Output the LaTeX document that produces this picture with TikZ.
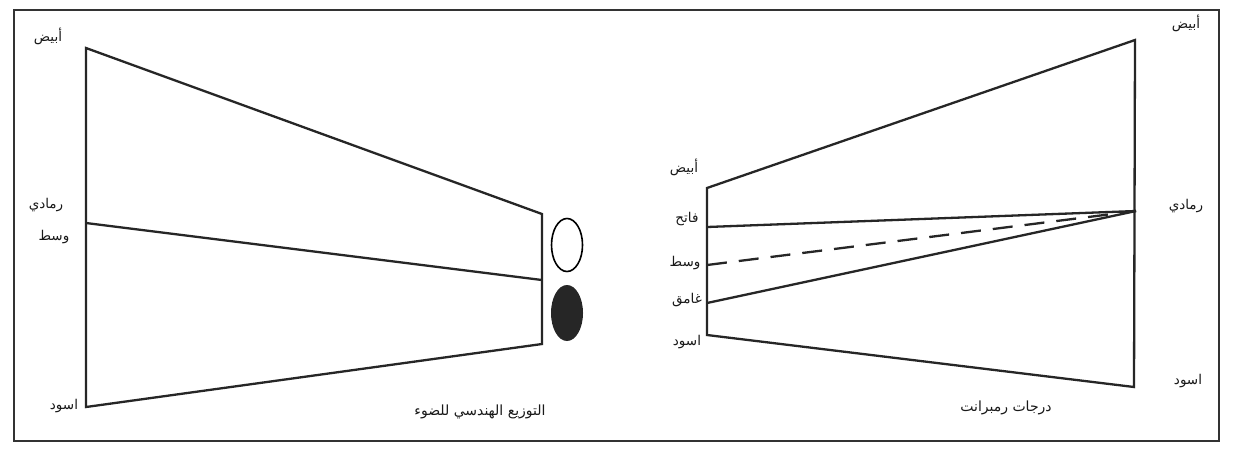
\documentclass[tikz,border=0pt]{standalone}
\usepackage{fontspec}
\usetikzlibrary{shapes.geometric}
\newfontfamily\arabicfont[Script=Arabic]{DejaVu Sans}
\TeXXeTstate=1
\newcommand{\ar}[1]{\arabicfont\beginR #1\endR}
\begin{document}
\begin{tikzpicture}[x=1pt,y=-1pt,
  edge/.style={line width=2.3pt,line join=miter,black!85},
  frame/.style={line width=2.6pt,black!80},
  lbl/.style={font=\fontsize{13.5}{15}\selectfont\arabicfont,inner sep=0pt,text=black!90},
  ttl/.style={font=\fontsize{14}{16}\selectfont\arabicfont,inner sep=0pt,text=black!90}]
\useasboundingbox (0,0) rectangle (1238,448);
\fill[white] (0,0) rectangle (1238,448);
% frame
\coordinate (f1) at (14,10);
\coordinate (f2) at (1219,10);
\coordinate (f3) at (1219,441);
\coordinate (f4) at (14,441);
\draw[frame] (f1) -- (f2) -- (f3) -- (f4) -- cycle;
% left trapezoid
\coordinate (lA) at (86,48);
\coordinate (lB) at (542,214);
\coordinate (lC) at (542,344);
\coordinate (lD) at (86,407);
\coordinate (lM1) at (86,223);
\coordinate (lM2) at (542,280);
\draw[edge] (lA) -- (lB) -- (lC) -- (lD) -- cycle;
\draw[edge] (lM1) -- (lM2);
% ellipses
\node[draw,line width=1.6pt,ellipse,minimum width=31pt,minimum height=53pt,inner sep=0pt] (wh) at (567,245) {};
\node[fill=black!85,ellipse,minimum width=32pt,minimum height=56pt,inner sep=0pt] (bk) at (567,313) {};
% right trapezoid
\coordinate (rA) at (707,188);
\coordinate (rB) at (1135,40);
\coordinate (rC) at (1134,387);
\coordinate (rD) at (707,335);
\coordinate (rG) at (1136,211);
\coordinate (rL) at (707,227);
\coordinate (rM) at (707,265);
\coordinate (rK) at (707,303);
\draw[edge] (rA) -- (rB) -- (rC) -- (rD) -- cycle;
\draw[edge] (rL) -- (rG);
\draw[edge,dash pattern=on 20pt off 12pt] (rM) -- (rG);
\draw[edge] (rK) -- (rG);
% labels left
\node[lbl] (t1) at (48,36) {\ar{أبيض}};
\node[lbl] (t2) at (46,205) {\ar{رمادي}};
\node[lbl] (t3) at (54,237) {\ar{وسط}};
\node[lbl] (t4) at (64,406) {\ar{اسود}};
\node[ttl] (t5) at (480,412) {\ar{التوزيع الهندسي للضوء}};
% labels middle
\node[lbl] (m1) at (684,167) {\ar{أبيض}};
\node[lbl] (m2) at (687,219) {\ar{فاتح}};
\node[lbl] (m3) at (685,263) {\ar{وسط}};
\node[lbl] (m4) at (687,300) {\ar{غامق}};
\node[lbl] (m5) at (687,342) {\ar{اسود}};
% labels right
\node[lbl] (r1) at (1186,23) {\ar{أبيض}};
\node[lbl] (r2) at (1186,206) {\ar{رمادي}};
\node[lbl] (r3) at (1188,381) {\ar{اسود}};
\node[ttl] (r4) at (1006,408) {\ar{درجات رمبرانت}};
\end{tikzpicture}
\end{document}
